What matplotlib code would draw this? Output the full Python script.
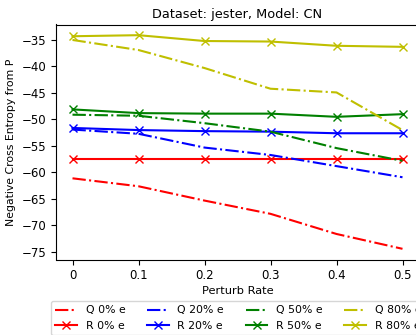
import matplotlib
matplotlib.use("Agg")
import matplotlib.pyplot as plt

rates = [0, 0.1, 0.2, 0.3, 0.4, 0.5]
rate_labels = ["0", "0.1", "0.2", "0.3", "0.4", "0.5"]
noise_labels = ["0%", "20%", "50%", "80%"]
colors = ["r", "b", "g", "y"]

q_values = [
    [-61.1, -62.6, -65.3, -67.8, -71.6, -74.4],
    [-51.9, -52.7, -55.3, -56.7, -58.8, -60.9],
    [-49.1, -49.3, -50.7, -52.3, -55.4, -57.8],
    [-35.0, -36.9, -40.3, -44.2, -44.9, -52.0],
]
r_values = [
    [-57.4, -57.4, -57.4, -57.4, -57.4, -57.4],
    [-51.6, -52.0, -52.2, -52.3, -52.6, -52.6],
    [-48.1, -48.8, -48.9, -48.9, -49.5, -49.0],
    [-34.3, -34.1, -35.2, -35.3, -36.1, -36.3],
]

fig = plt.figure(figsize=(4.16, 3.35), dpi=100)
ax = fig.add_axes([56 / 416, 1 - 259.5 / 335, 363 / 416, 235 / 335])

for noise, c, q, r in zip(noise_labels, colors, q_values, r_values):
    ax.plot(rates, q, color=c, linestyle="-.", label=f"Q {noise} e")
    ax.plot(rates, r, color=c, marker="x", label=f"R {noise} e")

ax.set_xticks(rates)
ax.set_xticklabels(rate_labels)
ax.set_xlabel("Perturb Rate", fontsize=8.2, labelpad=3)
ax.set_ylabel("Negative Cross Entropy from P", fontsize=7.8)
ax.set_title("Dataset: jester, Model: CN", fontsize=9.3, pad=5)
ax.tick_params(labelsize=8.5)

fig.legend(loc="upper left", bbox_to_anchor=(51 / 416, 1 - 301 / 335),
           ncol=4, fontsize=7.8, frameon=True, borderaxespad=0)

fig.savefig("out.png", dpi=100)
